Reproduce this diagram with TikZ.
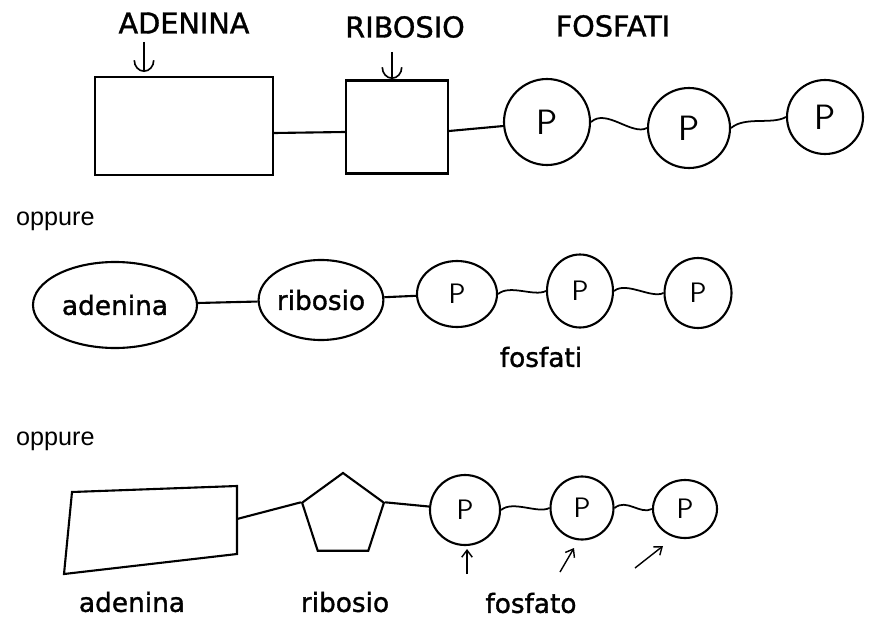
\documentclass[tikz,border=0pt]{standalone}
\usepackage{fontspec}
\setmainfont{DejaVu Sans}
\newfontfamily\etichetta{DejaVu Sans}[FakeBold=1.3]
\newfontfamily\arialfont{Liberation Sans}
\usetikzlibrary{shapes.geometric,arrows.meta}

\begin{document}
\begin{tikzpicture}[x=0.03cm,y=-0.03cm]
	\tikzset{segno/.style={line width=1.8pt, draw=black},
		fosfato/.style={ellipse, segno, inner sep=0, font=\sffamily\fontsize{24}{24}\selectfont},
		parte/.style={segno, inner sep=0},
		scritta/.style={font=\etichetta\fontsize{22.5}{27}\selectfont},
		titolo/.style={font=\etichetta\fontsize{24.5}{29}\selectfont},
		oppure/.style={font=\arialfont\fontsize{21.5}{26}\selectfont},
		onda/.style={line width=1.5pt, draw=black},
		freccia/.style={line width=1.2pt, draw=black, -{Straight Barb[length=6pt,width=9pt]}},
		uncino/.style={line width=1.4pt, draw=black, -{Arc Barb[length=10pt,width=18pt]}}}

	\useasboundingbox (0,0) rectangle (870,618);

	\node[titolo] at (184,23) (lA) {ADENINA};
	\node[titolo] at (405,27) (lR) {RIBOSIO};
	\node[titolo] at (613,26) (lF) {FOSFATI};
	\node[parte, rectangle, minimum width=5.34cm, minimum height=2.94cm] at (184,126) (a) {};
	\node[parte, rectangle, minimum width=3.06cm, minimum height=2.79cm] at (397,127) (b) {};
	\node[fosfato, minimum width=2.58cm, minimum height=2.58cm, font=\sffamily\fontsize{30}{30}\selectfont] at (547,122) (c) {P};
	\node[fosfato, minimum width=2.46cm, minimum height=2.4cm, font=\sffamily\fontsize{30}{30}\selectfont] at (689,128) (d) {P};
	\node[fosfato, minimum width=2.28cm, minimum height=2.22cm, font=\sffamily\fontsize{30}{30}\selectfont] at (825,117) (e) {P};
	\coordinate (ua) at (144,42);
	\coordinate (va) at (144,72);
	\coordinate (ub) at (392,52);
	\coordinate (vb) at (392,79);
	\draw [uncino] (ua) -- (va);
	\draw [uncino] (ub) -- (vb);
	\draw [segno] ([yshift=-0.21cm]a.east) -- ([yshift=-0.15cm]b.west);
	\draw [segno] ([yshift=-0.12cm]b.east) -- (c);
	\draw [onda] (c.east) .. controls +(15,-14) and +(-15,8) .. (d.west);
	\draw [onda] (d.east) .. controls +(14,-12) and +(-14,8) .. (e.west);

	\node[oppure, anchor=base west] at (12,225) (o1) {oppure};
	\node[parte, ellipse, minimum width=4.92cm, minimum height=2.58cm, scritta] at (115,305) (f) {adenina};
	\node[parte, ellipse, minimum width=3.54cm, minimum height=2.4cm, scritta] at (321,300) (g) {ribosio};
	\node[fosfato, minimum width=2.4cm, minimum height=1.98cm] at (457,294) (h) {P};
	\node[fosfato, minimum width=1.98cm, minimum height=2.19cm] at (580,291) (i) {P};
	\node[fosfato, minimum width=2.01cm, minimum height=2.1cm] at (698,293) (j) {P};
	\node[scritta] at (541,357) (lf) {fosfati};
	\draw [segno] (f) -- (g);
	\draw [segno] (g) -- (h);
	\draw [onda] (h.east) .. controls +(12,-10) and +(-12,6) .. (i.west);
	\draw [onda] (i.east) .. controls +(12,-10) and +(-12,6) .. (j.west);

	\node[oppure, anchor=base west] at (12,445) (o2) {oppure};
	\coordinate (k1) at (72,492);
	\coordinate (k2) at (237,486);
	\coordinate (k3) at (237,554);
	\coordinate (k4) at (64,574);
	\coordinate (k) at (237,519);
	\draw [segno] (k1) -- (k2) -- (k3) -- (k4) -- cycle;
	\node[parte, regular polygon, regular polygon sides=5, minimum size=2.58cm] at (343,516) (l) {};
	\node[fosfato] [minimum width=2.1cm, minimum height=2.1cm] at (465,510) (m) {P};
	\node[fosfato] [minimum width=1.89cm, minimum height=1.89cm] at (582,508) (n) {P};
	\node[fosfato] [minimum width=1.92cm, minimum height=1.74cm] at (685,509) (o) {P};
	\draw [segno] (k) -- (l.corner 2);
	\draw [segno] (l.corner 5) -- (m);
	\draw [onda] (m.east) .. controls +(12,-10) and +(-12,6) .. (n.west);
	\draw [onda] (n.east) .. controls +(12,-10) and +(-12,6) .. (o.west);
	\coordinate (s1) at (467,574);
	\coordinate (z1) at (467,549);
	\coordinate (s2) at (560,572);
	\coordinate (z2) at (574,548);
	\coordinate (s3) at (635,568);
	\coordinate (z3) at (663,546);
	\draw [freccia] (s1) -- (z1);
	\draw [freccia] (s2) -- (z2);
	\draw [freccia] (s3) -- (z3);
	\node[scritta] at (132,602) (la) {adenina};
	\node[scritta] at (345,602) (lr) {ribosio};
	\node[scritta] at (531,603) (lp) {fosfato};
\end{tikzpicture}
\end{document}
